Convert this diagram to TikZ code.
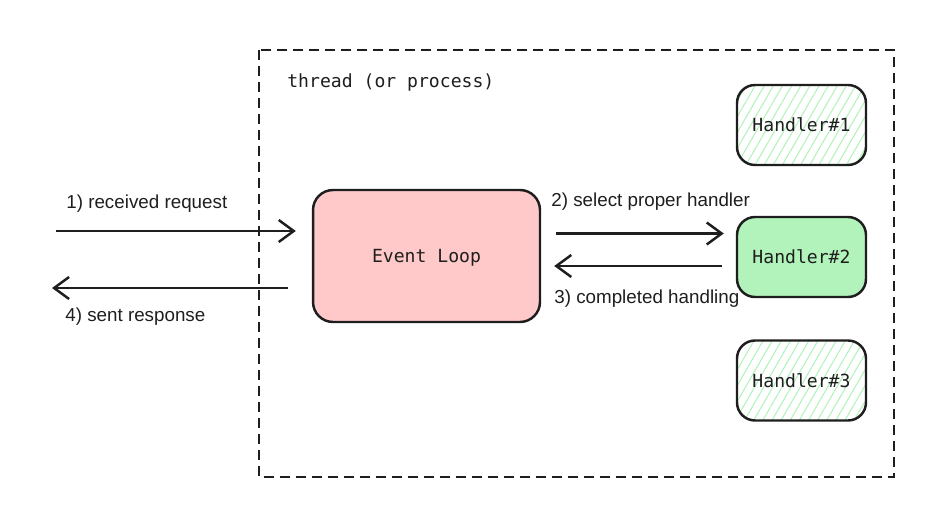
\documentclass[tikz,border=0pt]{standalone}
\usepackage{fontspec}
\setmainfont{Liberation Sans}
\setmonofont{DejaVu Sans Mono}
\usetikzlibrary{arrows.meta,patterns.meta}
\definecolor{ink}{HTML}{1E1E1E}
\definecolor{loopred}{HTML}{FFC9C9}
\definecolor{handgreen}{HTML}{B2F2BB}

\begin{document}
\begin{tikzpicture}[x=0.02cm,y=-0.02cm,
    box/.style={draw=ink, line width=1.4pt, rounded corners=0.36cm, text=ink, text depth=0pt,
        font=\ttfamily\fontsize{10.3pt}{12pt}\selectfont},
    handler/.style={box, minimum width=2.58cm, minimum height=1.6cm},
    hatched/.style={handler, pattern={Lines[angle=60,distance=4.5pt,line width=0.6pt]},
        pattern color=handgreen},
    flow/.style={draw=ink, line width=1.4pt, -{Straight Barb[length=3mm,width=4.4mm]}},
    lbl/.style={text=ink, inner sep=0pt, anchor=base west,
        font=\fontsize{10.7pt}{12pt}\selectfont}]
    \useasboundingbox (0,0) rectangle (951,524);

    % --- THREAD FRAME ---
    \draw[ink, line width=1.1pt, dash pattern=on 0.2cm off 0.12cm] (259,50) rectangle (894,477);
    \node[lbl, font=\ttfamily\fontsize{10.3pt}{12pt}\selectfont] (thread) at (287,87) {thread (or process)};

    % --- EVENT LOOP AND HANDLERS ---
    \node[box, fill=loopred, minimum width=4.54cm, minimum height=2.64cm, rounded corners=0.4cm] (loop) at (426.5,256) {Event Loop};
    \node[hatched] (h1) at (801.5,125) {Handler\#1};
    \node[handler, fill=handgreen] (h2) at (801.5,257) {Handler\#2};
    \node[hatched] (h3) at (801.5,380.5) {Handler\#3};

    % --- REQUEST / RESPONSE ---
    \coordinate (req) at (56,231);
    \coordinate (resp) at (52,288);
    \draw[flow, shorten >=0.32cm] (req) -- (req -| loop.west);
    \draw[flow, shorten <=0.48cm] (resp -| loop.west) -- (resp);
    \node[lbl] (lreq) at (66,208) {1) received request};
    \node[lbl] (lresp) at (65,321.5) {4) sent response};

    % --- DISPATCH ---
    \coordinate (sel) at ([yshift=0.45cm]loop.east);
    \coordinate (done) at ([yshift=-0.2cm]loop.east);
    \draw[flow, shorten <=0.3cm, shorten >=0.24cm] (sel) -- (sel -| h2.west);
    \draw[flow, shorten <=0.28cm, shorten >=0.26cm] (done -| h2.west) -- (done);
    \node[lbl] (lsel) at (551,206.5) {2) select proper handler};
    \node[lbl] (ldone) at (554,303) {3) completed handling};
\end{tikzpicture}
\end{document}
